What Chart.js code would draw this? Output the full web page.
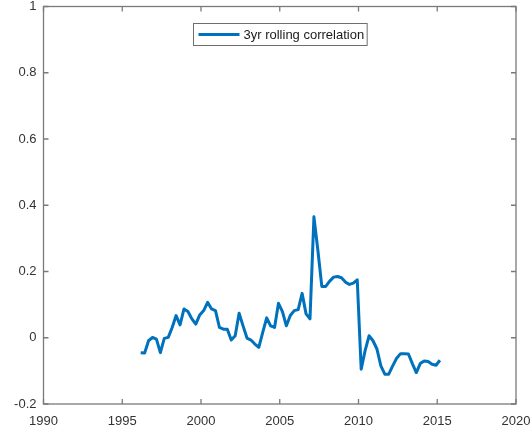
<!DOCTYPE html>
<html>
<head>
<meta charset="utf-8">
<script src="https://cdn.jsdelivr.net/npm/chart.js@4.4.1/dist/chart.umd.min.js"></script>
<style>
	body { margin: 0; background: #fff; }
	canvas { display: block; }
</style>
</head>
<body>
<canvas id="chartCorrelacao" width="532" height="430"></canvas>
<script>
// quarterly observations, first one early 1996
var primeiroAno = 1996.17;
var passo = 0.25;
var correlacao = [
	-0.045, -0.046, -0.009, 0.001, -0.004, -0.045, -0.002, 0.001, 0.031, 0.067,
	0.039, 0.087, 0.079, 0.057, 0.041, 0.069, 0.082, 0.107, 0.087, 0.082,
	0.031, 0.026, 0.026, -0.007, 0.006, 0.074, 0.036, -0.001, -0.007, -0.019,
	-0.029, 0.016, 0.060, 0.036, 0.031, 0.104, 0.079, 0.036, 0.067, 0.082,
	0.085, 0.134, 0.072, 0.057, 0.365, 0.264, 0.155, 0.155, 0.171, 0.183,
	0.185, 0.181, 0.168, 0.161, 0.165, 0.175, -0.095, -0.039, 0.006, -0.009,
	-0.034, -0.085, -0.110, -0.110, -0.085, -0.062, -0.048, -0.048, -0.049, -0.078,
	-0.105, -0.078, -0.070, -0.072, -0.080, -0.083, -0.068
];
var rotulo = '3yr rolling correlation';
var xTicks = [1990, 1995, 2000, 2005, 2010, 2015, 2020];
var yTicks = [-0.2, 0, 0.2, 0.4, 0.6, 0.8, 1];

var fonte = '"Liberation Sans", Arial, sans-serif';
var azul = '#0072BD';
var cinza = '#7a7a7a';

var pontos = correlacao.map(function(v, i) {
	return { x: primeiroAno + i * passo, y: v };
});

// matlab style box, inward ticks and a legend inside the axes
var caixaMatlab = {
	id: 'caixaMatlab',
	afterDraw: function(chart) {
		var ctx = chart.ctx;
		var a = chart.chartArea;
		var sx = chart.scales.x;
		var sy = chart.scales.y;
		var tam = 5;
		ctx.save();
		ctx.strokeStyle = cinza;
		ctx.lineWidth = 1.3;
		ctx.strokeRect(a.left, a.top, a.right - a.left, a.bottom - a.top);
		ctx.beginPath();
		xTicks.forEach(function(t) {
			var px = sx.getPixelForValue(t);
			ctx.moveTo(px, a.bottom); ctx.lineTo(px, a.bottom - tam);
			ctx.moveTo(px, a.top); ctx.lineTo(px, a.top + tam);
		});
		yTicks.forEach(function(t) {
			var py = sy.getPixelForValue(t);
			ctx.moveTo(a.left, py); ctx.lineTo(a.left + tam, py);
			ctx.moveTo(a.right, py); ctx.lineTo(a.right - tam, py);
		});
		ctx.stroke();

		// legend
		ctx.font = '13px ' + fonte;
		var larguraTexto = ctx.measureText(rotulo).width;
		var larguraLinha = 41;
		var w = 5 + larguraLinha + 4 + larguraTexto + 3;
		var h = 22;
		var bx = Math.round((a.left + a.right) / 2 - w / 2) + 0.5;
		var by = Math.round(a.top + 16) + 0.5;
		ctx.fillStyle = '#fff';
		ctx.fillRect(bx, by, w, h);
		ctx.lineWidth = 1;
		ctx.strokeStyle = '#6e6e6e';
		ctx.strokeRect(bx, by, w, h);
		ctx.beginPath();
		ctx.strokeStyle = azul;
		ctx.lineWidth = 3;
		ctx.moveTo(bx + 5, by + h / 2);
		ctx.lineTo(bx + 5 + larguraLinha, by + h / 2);
		ctx.stroke();
		ctx.fillStyle = '#1a1a1a';
		ctx.textBaseline = 'middle';
		ctx.textAlign = 'left';
		ctx.fillText(rotulo, bx + 5 + larguraLinha + 4, by + h / 2 + 1);
		ctx.restore();
	}
};

var myChart = new Chart(document.getElementById('chartCorrelacao'), {
	type: 'line',
	data: {
		datasets: [
			{
				label: rotulo,
				data: pontos,
				borderColor: azul,
				borderWidth: 3,
				pointRadius: 0,
				tension: 0,
				fill: false,
				borderJoinStyle: 'round'
			}
		]
	},
	options: {
		responsive: false,
		animation: false,
		devicePixelRatio: 1,
		layout: { padding: { top: 6.5, right: 16, left: 0, bottom: 0 } },
		plugins: {
			legend: { display: false },
			tooltip: { enabled: false }
		},
		scales: {
			x: {
				type: 'linear',
				min: 1990,
				max: 2020,
				afterFit: function(scale) {
					scale.height = 26;
					scale.paddingLeft = 0;
					scale.paddingRight = 0;
				},
				afterBuildTicks: function(scale) {
					scale.ticks = xTicks.map(function(v) { return { value: v }; });
				},
				grid: { display: false, drawTicks: false },
				border: { display: false },
				ticks: {
					padding: 10,
					color: '#333',
					font: { family: fonte, size: 13 },
					maxRotation: 0,
					callback: function(v) { return String(v); }
				}
			},
			y: {
				min: -0.2,
				max: 1,
				afterFit: function(scale) {
					scale.width = 43.5;
					scale.paddingTop = 0;
					scale.paddingBottom = 0;
				},
				afterBuildTicks: function(scale) {
					scale.ticks = yTicks.map(function(v) { return { value: v }; });
				},
				grid: { display: false, drawTicks: false },
				border: { display: false },
				ticks: {
					padding: 7,
					color: '#333',
					font: { family: fonte, size: 13 },
					callback: function(v) { return String(Number(v.toFixed(1))); }
				}
			}
		}
	},
	plugins: [caixaMatlab]
});
</script>
</body>
</html>
